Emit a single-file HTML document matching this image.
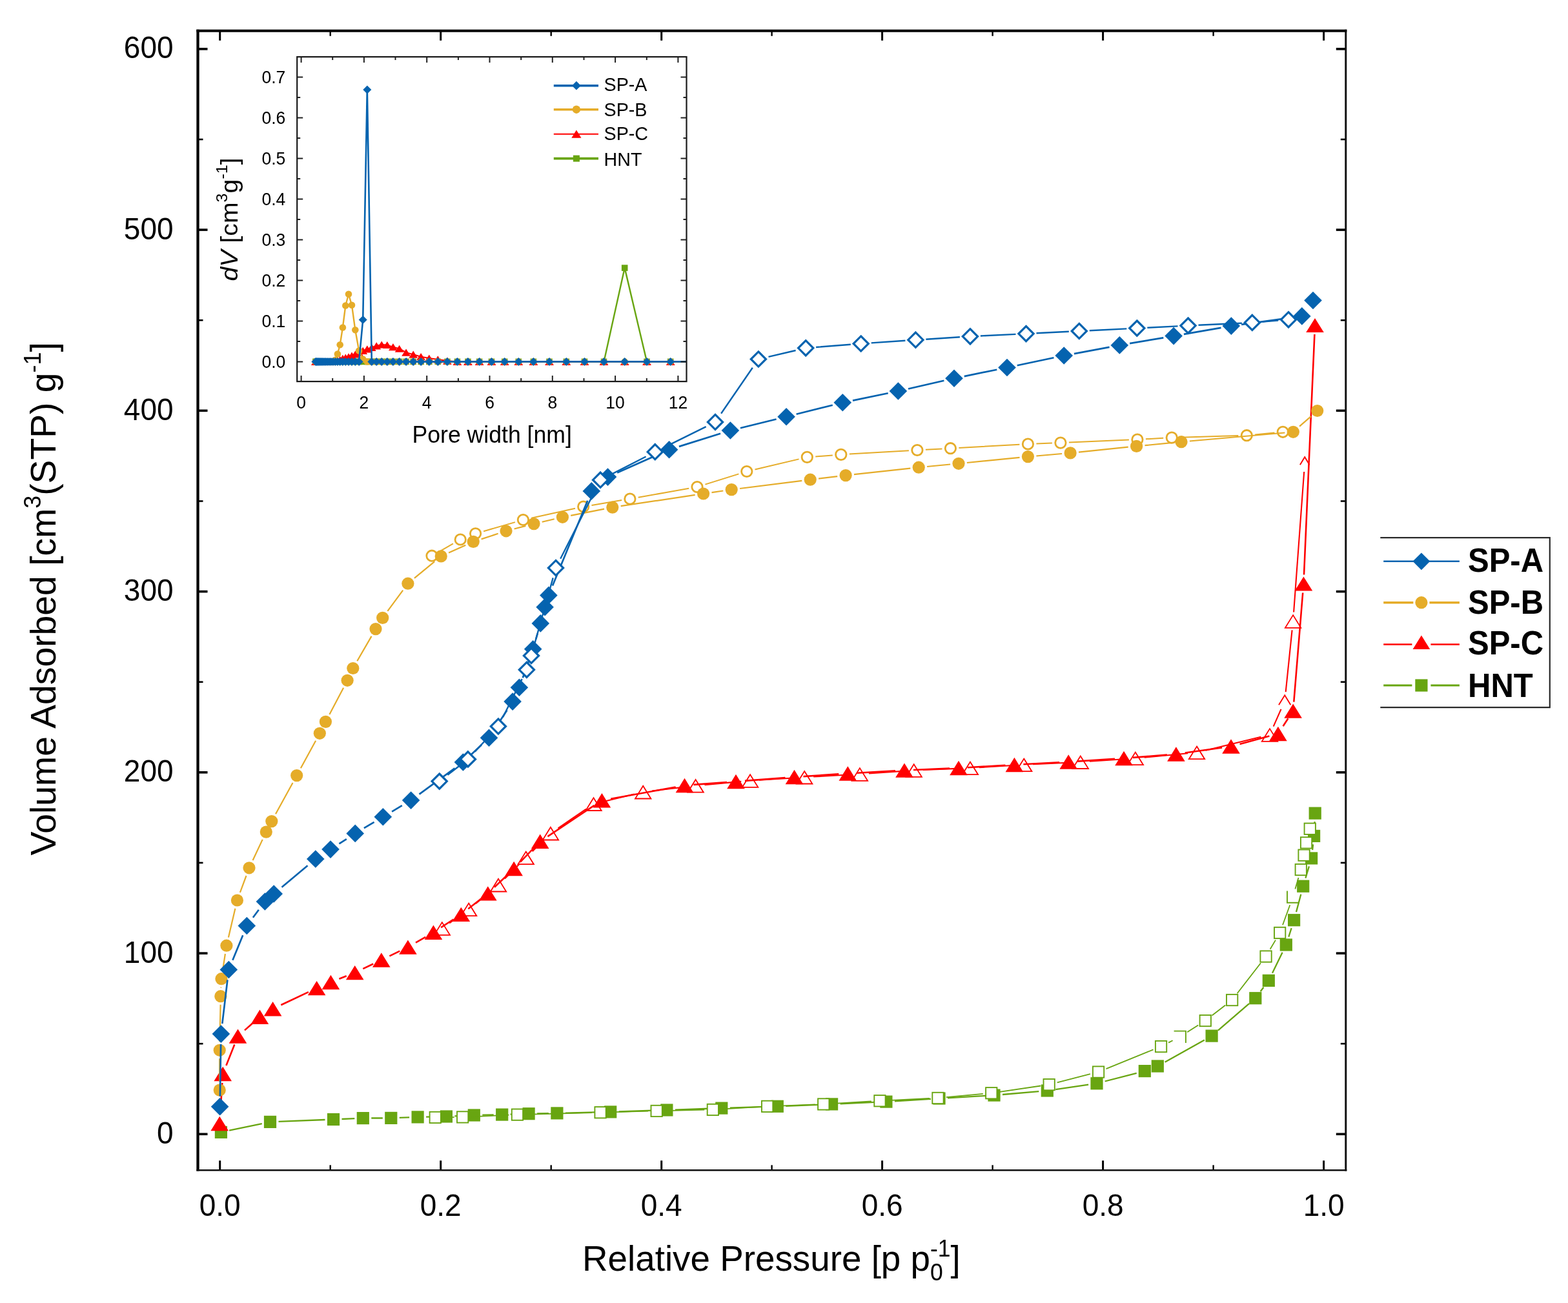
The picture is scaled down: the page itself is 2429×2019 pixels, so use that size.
<!DOCTYPE html><html><head><meta charset="utf-8"><style>html,body{margin:0;padding:0;background:#fff;overflow:hidden;}svg{display:block;}</style></head><body><svg width="2429" height="2019" viewBox="0 0 2429 2019">
<rect width="2429" height="2019" fill="#fff"/>
<g>
<path d="M355.1 1751.7L405.8 1741.1M431.5 1737.9L503.5 1735M529.5 1734L549.3 1733.1M575.3 1732.5L592.8 1732.5M618.8 1731.9L634.1 1731.4M660.1 1730.6L678.4 1730.3M704.4 1729.4L721.3 1728.6M747.3 1727.7L764.7 1727.4M790.7 1726.7L806.1 1726.1M832.1 1725.5L849.9 1725.1M875.9 1724.6L932.7 1723.2M958.7 1722.5L1019.9 1720.4M1045.9 1719.6L1104.8 1717.5M1130.8 1716.7L1191.3 1714.7M1217.3 1713.8L1275.6 1711.4M1301.6 1710.3L1359.9 1707.7M1385.9 1706.3L1442 1702.8M1468 1701.3L1527 1697.8M1553 1696L1609.3 1691.1M1635.2 1688.1L1686.1 1680.7M1711.6 1675.5L1760.7 1662.9M1804.6 1645.7L1865.8 1611.4M1886.9 1596.6L1935 1555.2M1952.6 1536.3L1957.5 1529.8M1971 1507.7L1986.6 1475.7M1996.3 1451.6L2000.6 1438.1M2008 1413.1L2015.3 1385.8M2022.4 1360.7L2027.9 1342.4M2033.1 1317L2034.1 1308.3M2036.2 1282.4L2036.6 1273.1" fill="none" stroke="#68A511" stroke-width="2.3" stroke-linecap="butt"/>
<rect x="332.8" y="1744.8" width="19.2" height="19.2" fill="#68A511"/><rect x="408.9" y="1728.8" width="19.2" height="19.2" fill="#68A511"/><rect x="506.9" y="1724.9" width="19.2" height="19.2" fill="#68A511"/><rect x="552.7" y="1723" width="19.2" height="19.2" fill="#68A511"/><rect x="596.2" y="1722.8" width="19.2" height="19.2" fill="#68A511"/><rect x="637.5" y="1721.3" width="19.2" height="19.2" fill="#68A511"/><rect x="681.8" y="1720.4" width="19.2" height="19.2" fill="#68A511"/><rect x="724.7" y="1718.4" width="19.2" height="19.2" fill="#68A511"/><rect x="768.1" y="1717.5" width="19.2" height="19.2" fill="#68A511"/><rect x="809.5" y="1716.1" width="19.2" height="19.2" fill="#68A511"/><rect x="853.3" y="1715.3" width="19.2" height="19.2" fill="#68A511"/><rect x="936.1" y="1713.3" width="19.2" height="19.2" fill="#68A511"/><rect x="1023.3" y="1710.4" width="19.2" height="19.2" fill="#68A511"/><rect x="1108.2" y="1707.5" width="19.2" height="19.2" fill="#68A511"/><rect x="1194.7" y="1704.7" width="19.2" height="19.2" fill="#68A511"/><rect x="1279" y="1701.3" width="19.2" height="19.2" fill="#68A511"/><rect x="1363.3" y="1697.5" width="19.2" height="19.2" fill="#68A511"/><rect x="1445.4" y="1692.4" width="19.2" height="19.2" fill="#68A511"/><rect x="1530.4" y="1687.5" width="19.2" height="19.2" fill="#68A511"/><rect x="1612.7" y="1680.4" width="19.2" height="19.2" fill="#68A511"/><rect x="1689.4" y="1669.2" width="19.2" height="19.2" fill="#68A511"/><rect x="1763.7" y="1650" width="19.2" height="19.2" fill="#68A511"/><rect x="1783.7" y="1642.4" width="19.2" height="19.2" fill="#68A511"/><rect x="1867.5" y="1595.5" width="19.2" height="19.2" fill="#68A511"/><rect x="1935.2" y="1537.1" width="19.2" height="19.2" fill="#68A511"/><rect x="1955.7" y="1509.8" width="19.2" height="19.2" fill="#68A511"/><rect x="1982.7" y="1454.4" width="19.2" height="19.2" fill="#68A511"/><rect x="1995" y="1416.1" width="19.2" height="19.2" fill="#68A511"/><rect x="2009.1" y="1363.6" width="19.2" height="19.2" fill="#68A511"/><rect x="2022" y="1320.3" width="19.2" height="19.2" fill="#68A511"/><rect x="2026" y="1285.8" width="19.2" height="19.2" fill="#68A511"/><rect x="2027.6" y="1250.5" width="19.2" height="19.2" fill="#68A511"/>
<path d="M687.3 1731.2L703.6 1731.1M729.6 1730.3L788.4 1727.7M814.4 1726.8L917 1724M943 1723.4L1004.1 1721.7M1030.1 1721.1L1091.3 1719.7M1117.3 1718.6L1175.6 1715.1M1201.6 1713.8L1262.7 1711.4M1288.7 1710.1L1349.9 1706.5M1375.9 1705.1L1439.9 1702M1465.8 1700.2L1522.8 1694.9M1548.6 1691.8L1612.2 1682.5M1637.7 1677.4L1688.9 1664.2M1713.5 1656.1L1786.5 1626.4M1810.1 1615.6L1816.6 1612.2M1839.2 1599.3L1856.2 1588.5M1877.5 1573.5L1898.3 1557.5M1916.6 1539.2L1953 1492.3M1967.6 1470.8L1976 1456.6M1987 1433.2L1998.3 1402.3M2006.4 1377.6L2011.5 1360" fill="none" stroke="#68A511" stroke-width="1.8" stroke-linecap="butt"/>
<rect x="665.6" y="1722.8" width="17.3" height="17.3" fill="#fff" stroke="#68A511" stroke-width="1.9"/><rect x="708" y="1722.3" width="17.3" height="17.3" fill="#fff" stroke="#68A511" stroke-width="1.9"/><rect x="792.8" y="1718.5" width="17.3" height="17.3" fill="#fff" stroke="#68A511" stroke-width="1.9"/><rect x="921.4" y="1715.1" width="17.3" height="17.3" fill="#fff" stroke="#68A511" stroke-width="1.9"/><rect x="1008.5" y="1712.8" width="17.3" height="17.3" fill="#fff" stroke="#68A511" stroke-width="1.9"/><rect x="1095.7" y="1710.8" width="17.3" height="17.3" fill="#fff" stroke="#68A511" stroke-width="1.9"/><rect x="1180" y="1705.7" width="17.3" height="17.3" fill="#fff" stroke="#68A511" stroke-width="1.9"/><rect x="1267.1" y="1702.3" width="17.3" height="17.3" fill="#fff" stroke="#68A511" stroke-width="1.9"/><rect x="1354.3" y="1697.1" width="17.3" height="17.3" fill="#fff" stroke="#68A511" stroke-width="1.9"/><rect x="1444.3" y="1692.8" width="17.3" height="17.3" fill="#fff" stroke="#68A511" stroke-width="1.9"/><rect x="1527.1" y="1685.1" width="17.3" height="17.3" fill="#fff" stroke="#68A511" stroke-width="1.9"/><rect x="1616.5" y="1672" width="17.3" height="17.3" fill="#fff" stroke="#68A511" stroke-width="1.9"/><rect x="1692.9" y="1652.4" width="17.3" height="17.3" fill="#fff" stroke="#68A511" stroke-width="1.9"/><rect x="1789.9" y="1612.9" width="17.3" height="17.3" fill="#fff" stroke="#68A511" stroke-width="1.9"/><path d="M1818.6 1597.6H1837.8M1836.9 1596.7V1615.9" fill="none" stroke="#68A511" stroke-width="1.9"/><rect x="1858.6" y="1572.9" width="17.3" height="17.3" fill="#fff" stroke="#68A511" stroke-width="1.9"/><rect x="1900" y="1540.9" width="17.3" height="17.3" fill="#fff" stroke="#68A511" stroke-width="1.9"/><rect x="1952.4" y="1473.4" width="17.3" height="17.3" fill="#fff" stroke="#68A511" stroke-width="1.9"/><rect x="1974" y="1436.8" width="17.3" height="17.3" fill="#fff" stroke="#68A511" stroke-width="1.9"/><path d="M1994 1380.5V1399.7M1993.1 1398.8H2012.3" fill="none" stroke="#68A511" stroke-width="1.9"/><rect x="2006.6" y="1338.9" width="17.3" height="17.3" fill="#fff" stroke="#68A511" stroke-width="1.9"/><rect x="2011.4" y="1316.5" width="17.3" height="17.3" fill="#fff" stroke="#68A511" stroke-width="1.9"/><rect x="2014.9" y="1297.2" width="17.3" height="17.3" fill="#fff" stroke="#68A511" stroke-width="1.9"/><rect x="2020.6" y="1275.6" width="17.3" height="17.3" fill="#fff" stroke="#68A511" stroke-width="1.9"/>
</g>
<g>
<path d="M696.2 1430.4L714.7 1417.1M736.9 1400.1L761.2 1380.1M782 1361.4L804.7 1338.8M824.7 1319.2L842.9 1301M864.5 1283.3L907.9 1253.6M933.1 1242.4L982.6 1230.5M1010.1 1225.5L1063.7 1219.1M1091.5 1216.1L1148.2 1210.9M1176.1 1208.7L1232.2 1205.2M1260.2 1203.5L1317.9 1200.3M1345.9 1198.5L1401.7 1194.6M1429.7 1193L1488.9 1190.6M1516.9 1189.2L1572.2 1185.8M1600.2 1184.3L1659.8 1181.5M1687.8 1179.8L1744.8 1176M1772.7 1173.7L1840.1 1167.3M1867.6 1162.7L1953.4 1141.8M1972.7 1125.7L1984.5 1098.8M1991.7 1072.1L2001.6 976.4M2004.1 948.5L2020.2 731" fill="none" stroke="#FF0000" stroke-width="2.1" stroke-linecap="butt"/>
<path d="M684.8 1429.1L697 1448.8L672.6 1448.8Z" fill="#fff" stroke="#FF0000" stroke-width="1.8"/><path d="M726.1 1399.6L738.3 1419.2L713.9 1419.2Z" fill="#fff" stroke="#FF0000" stroke-width="1.8"/><path d="M772 1361.8L784.2 1381.5L759.8 1381.5Z" fill="#fff" stroke="#FF0000" stroke-width="1.8"/><path d="M814.7 1319.6L826.9 1339.2L802.5 1339.2Z" fill="#fff" stroke="#FF0000" stroke-width="1.8"/><path d="M852.9 1281.8L865.1 1301.5L840.7 1301.5Z" fill="#fff" stroke="#FF0000" stroke-width="1.8"/><path d="M919.5 1236.3L931.7 1256L907.3 1256Z" fill="#fff" stroke="#FF0000" stroke-width="1.8"/><path d="M996.2 1217.8L1008.4 1237.5L984 1237.5Z" fill="#fff" stroke="#FF0000" stroke-width="1.8"/><path d="M1077.6 1208L1089.8 1227.7L1065.4 1227.7Z" fill="#fff" stroke="#FF0000" stroke-width="1.8"/><path d="M1162.1 1200.2L1174.3 1219.8L1149.9 1219.8Z" fill="#fff" stroke="#FF0000" stroke-width="1.8"/><path d="M1246.2 1194.9L1258.4 1214.5L1234 1214.5Z" fill="#fff" stroke="#FF0000" stroke-width="1.8"/><path d="M1331.9 1190.1L1344.1 1209.8L1319.7 1209.8Z" fill="#fff" stroke="#FF0000" stroke-width="1.8"/><path d="M1415.7 1184.2L1427.9 1203.8L1403.5 1203.8Z" fill="#fff" stroke="#FF0000" stroke-width="1.8"/><path d="M1502.9 1180.6L1515.1 1200.2L1490.7 1200.2Z" fill="#fff" stroke="#FF0000" stroke-width="1.8"/><path d="M1586.2 1175.6L1598.4 1195.2L1574 1195.2Z" fill="#fff" stroke="#FF0000" stroke-width="1.8"/><path d="M1673.8 1171.4L1686 1191L1661.6 1191Z" fill="#fff" stroke="#FF0000" stroke-width="1.8"/><path d="M1758.8 1165.6L1771 1185.2L1746.6 1185.2Z" fill="#fff" stroke="#FF0000" stroke-width="1.8"/><path d="M1854 1156.6L1866.2 1176.2L1841.8 1176.2Z" fill="#fff" stroke="#FF0000" stroke-width="1.8"/><path d="M1967 1129.1L1979.2 1148.8L1954.8 1148.8Z" fill="#fff" stroke="#FF0000" stroke-width="1.8"/><path d="M1981 1092.2L1990.2 1077.2L1999.4 1092.2" fill="none" stroke="#FF0000" stroke-width="1.9"/><path d="M2003.1 953.1L2015.3 972.8L1990.9 972.8Z" fill="#fff" stroke="#FF0000" stroke-width="1.8"/><path d="M2013.9 720.2L2021.2 708.2L2028.5 720.2" fill="none" stroke="#FF0000" stroke-width="1.9"/>
<path d="M341.1 1727L344.3 1678M350.4 1651L363.3 1618.6M379 1596.4L391.9 1585M435.3 1557.2L477.9 1537.1M525.4 1516.8L536.7 1512.3M562.3 1501.1L578.2 1493.5M603.4 1481.4L619.3 1473.7M644 1460.6L659.3 1451.8M683.1 1437.2L702.6 1424.5M725.3 1408.3L744.8 1393M765.9 1374.7L786 1355.7M805.8 1335.9L827 1313.9M848.4 1296.1L920.7 1247.9M946.2 1237.7L1046.7 1219.5M1074.5 1215.9L1126 1212.1M1154 1209.9L1216.5 1205.1M1244.5 1203.1L1299.3 1199.4M1327.3 1197.7L1387 1194.4M1415 1193L1471 1190.6M1499 1189.2L1557.4 1185.8M1585.4 1184.2L1641.2 1181.3M1669.2 1179.6L1727 1175.9M1755 1173.9L1807.9 1169.6M1835.8 1166.5L1893.1 1158.5M1920.5 1152.9L1966.4 1140.6M1987.6 1125.3L1995.4 1113.3M2004.3 1087.6L2018.2 918.5M2020 890.5L2036.4 518" fill="none" stroke="#FF0000" stroke-width="2.6" stroke-linecap="butt"/>
<path d="M340.2 1729.8L354 1752.2L326.4 1752.2Z" fill="#FF0000"/><path d="M345.2 1652.8L359 1675.2L331.4 1675.2Z" fill="#FF0000"/><path d="M368.5 1594.4L382.3 1616.8L354.7 1616.8Z" fill="#FF0000"/><path d="M402.4 1564.6L416.2 1587L388.6 1587Z" fill="#FF0000"/><path d="M422.6 1552L436.4 1574.4L408.8 1574.4Z" fill="#FF0000"/><path d="M490.6 1519.9L504.4 1542.2L476.8 1542.2Z" fill="#FF0000"/><path d="M512.4 1510.8L526.2 1533.2L498.6 1533.2Z" fill="#FF0000"/><path d="M549.7 1495.9L563.5 1518.2L535.9 1518.2Z" fill="#FF0000"/><path d="M590.8 1476.3L604.6 1498.7L577 1498.7Z" fill="#FF0000"/><path d="M631.9 1456.4L645.7 1478.8L618.1 1478.8Z" fill="#FF0000"/><path d="M671.4 1433.6L685.2 1456L657.6 1456Z" fill="#FF0000"/><path d="M714.3 1405.8L728.1 1428.1L700.5 1428.1Z" fill="#FF0000"/><path d="M755.8 1373.2L769.6 1395.6L742 1395.6Z" fill="#FF0000"/><path d="M796.1 1334.8L809.9 1357.2L782.3 1357.2Z" fill="#FF0000"/><path d="M836.7 1292.6L850.5 1315L822.9 1315Z" fill="#FF0000"/><path d="M932.4 1229L946.2 1251.4L918.6 1251.4Z" fill="#FF0000"/><path d="M1060.5 1205.8L1074.3 1228.2L1046.7 1228.2Z" fill="#FF0000"/><path d="M1140 1199.8L1153.8 1222.2L1126.2 1222.2Z" fill="#FF0000"/><path d="M1230.5 1192.8L1244.3 1215.2L1216.7 1215.2Z" fill="#FF0000"/><path d="M1313.3 1187.3L1327.1 1209.7L1299.5 1209.7Z" fill="#FF0000"/><path d="M1401 1182.4L1414.8 1204.8L1387.2 1204.8Z" fill="#FF0000"/><path d="M1485 1178.8L1498.8 1201.2L1471.2 1201.2Z" fill="#FF0000"/><path d="M1571.4 1173.8L1585.2 1196.2L1557.6 1196.2Z" fill="#FF0000"/><path d="M1655.2 1169.3L1669 1191.7L1641.4 1191.7Z" fill="#FF0000"/><path d="M1741 1163.8L1754.8 1186.2L1727.2 1186.2Z" fill="#FF0000"/><path d="M1821.9 1157.3L1835.7 1179.7L1808.1 1179.7Z" fill="#FF0000"/><path d="M1907 1145.3L1920.8 1167.7L1893.2 1167.7Z" fill="#FF0000"/><path d="M1979.9 1125.8L1993.7 1148.2L1966.1 1148.2Z" fill="#FF0000"/><path d="M2003.1 1090.4L2016.9 1112.8L1989.3 1112.8Z" fill="#FF0000"/><path d="M2019.4 893.4L2033.2 915.6L2005.6 915.6Z" fill="#FF0000"/><path d="M2037 492.9L2050.8 515.1L2023.2 515.1Z" fill="#FF0000"/>
</g>
<g>
<path d="M680.3 854.8L701.9 842.4M749.1 823.2L797.9 809.1M823.1 802.7L891 787.8M916.5 782.9L963.1 775.1M988.7 770.7L1067.2 756.8M1092.4 750.6L1144.4 734.4M1169.5 727.5L1237.6 711.4M1263.3 707.4L1289.8 705.4M1315.8 703.6L1407.9 698.3M1433.9 696.8L1459.4 695.4M1485.4 694L1579.4 688.7M1605.4 687.5L1629.9 686.6M1655.9 685.5L1748.9 681.6M1774.9 680.3L1802.2 678.8M1828.2 677.7L1918.3 675.1M1944.2 673.5L1974.4 670.5" fill="none" stroke="#E5AC29" stroke-width="2" stroke-linecap="butt"/>
<circle cx="669" cy="861.2" r="8.2" fill="#fff" stroke="#E5AC29" stroke-width="2.8"/><circle cx="713.2" cy="836" r="8.2" fill="#fff" stroke="#E5AC29" stroke-width="2.8"/><circle cx="736.6" cy="826.8" r="8.2" fill="#fff" stroke="#E5AC29" stroke-width="2.8"/><circle cx="810.4" cy="805.5" r="8.2" fill="#fff" stroke="#E5AC29" stroke-width="2.8"/><circle cx="903.7" cy="785" r="8.2" fill="#fff" stroke="#E5AC29" stroke-width="2.8"/><circle cx="975.9" cy="773" r="8.2" fill="#fff" stroke="#E5AC29" stroke-width="2.8"/><circle cx="1080" cy="754.5" r="8.2" fill="#fff" stroke="#E5AC29" stroke-width="2.8"/><circle cx="1156.8" cy="730.5" r="8.2" fill="#fff" stroke="#E5AC29" stroke-width="2.8"/><circle cx="1250.3" cy="708.4" r="8.2" fill="#fff" stroke="#E5AC29" stroke-width="2.8"/><circle cx="1302.8" cy="704.4" r="8.2" fill="#fff" stroke="#E5AC29" stroke-width="2.8"/><circle cx="1420.9" cy="697.5" r="8.2" fill="#fff" stroke="#E5AC29" stroke-width="2.8"/><circle cx="1472.4" cy="694.7" r="8.2" fill="#fff" stroke="#E5AC29" stroke-width="2.8"/><circle cx="1592.4" cy="688" r="8.2" fill="#fff" stroke="#E5AC29" stroke-width="2.8"/><circle cx="1642.9" cy="686.1" r="8.2" fill="#fff" stroke="#E5AC29" stroke-width="2.8"/><circle cx="1761.9" cy="681" r="8.2" fill="#fff" stroke="#E5AC29" stroke-width="2.8"/><circle cx="1815.2" cy="678.1" r="8.2" fill="#fff" stroke="#E5AC29" stroke-width="2.8"/><circle cx="1931.3" cy="674.7" r="8.2" fill="#fff" stroke="#E5AC29" stroke-width="2.8"/><circle cx="1987.3" cy="669.3" r="8.2" fill="#fff" stroke="#E5AC29" stroke-width="2.8"/>
<path d="M340.2 1676.1L340.2 1640.3M340.4 1614.3L341.6 1556.7M342.3 1530.7L342.4 1529.7M344.9 1503.9L348.9 1478M353.9 1452.5L364.4 1407.7M371.9 1382.8L381.5 1357M391.6 1333L406.7 1300.9M427 1261.2L453.5 1213M465.9 1190.2L489.1 1147.7M510.4 1106.9L532.1 1065.8M553.3 1024.2L575.5 985.9M600.4 946.9L624.2 914.7M641.9 895.9L673.2 870.2M695.1 856.6L721.3 844.7M745.6 835.4L771.6 826.8M796.6 819.5L814.4 814.9M839.7 808.7L858.7 804.2M884.2 798.8L936 788.6M961.7 784.2L1076.7 766.9M1102.5 763.1L1120.3 760.5M1146.1 757L1242.3 744.8M1268.1 741.6L1297.2 738.2M1323 735.2L1410.3 725.6M1436.1 723L1472.1 719.5M1497.9 717L1579.5 708.9M1605.4 706.5L1645.1 703M1671 700.6L1747.7 692.7M1773.5 690.2L1817.1 685.9M1842.9 683.5L1990.4 670.5M2013.1 660.7L2030.9 645.1" fill="none" stroke="#E5AC29" stroke-width="2.2" stroke-linecap="butt"/>
<circle cx="340.2" cy="1689.1" r="9.6" fill="#E5AC29"/><circle cx="340.2" cy="1627.3" r="9.6" fill="#E5AC29"/><circle cx="341.8" cy="1543.7" r="9.6" fill="#E5AC29"/><circle cx="342.9" cy="1516.7" r="9.6" fill="#E5AC29"/><circle cx="350.9" cy="1465.2" r="9.6" fill="#E5AC29"/><circle cx="367.4" cy="1395" r="9.6" fill="#E5AC29"/><circle cx="386" cy="1344.8" r="9.6" fill="#E5AC29"/><circle cx="412.3" cy="1289.1" r="9.6" fill="#E5AC29"/><circle cx="420.8" cy="1272.6" r="9.6" fill="#E5AC29"/><circle cx="459.7" cy="1201.6" r="9.6" fill="#E5AC29"/><circle cx="495.3" cy="1136.3" r="9.6" fill="#E5AC29"/><circle cx="504.4" cy="1118.4" r="9.6" fill="#E5AC29"/><circle cx="538.1" cy="1054.3" r="9.6" fill="#E5AC29"/><circle cx="546.8" cy="1035.5" r="9.6" fill="#E5AC29"/><circle cx="582" cy="974.6" r="9.6" fill="#E5AC29"/><circle cx="592.7" cy="957.4" r="9.6" fill="#E5AC29"/><circle cx="631.9" cy="904.2" r="9.6" fill="#E5AC29"/><circle cx="683.2" cy="861.9" r="9.6" fill="#E5AC29"/><circle cx="733.2" cy="839.4" r="9.6" fill="#E5AC29"/><circle cx="784" cy="822.8" r="9.6" fill="#E5AC29"/><circle cx="827" cy="811.6" r="9.6" fill="#E5AC29"/><circle cx="871.4" cy="801.3" r="9.6" fill="#E5AC29"/><circle cx="948.8" cy="786.1" r="9.6" fill="#E5AC29"/><circle cx="1089.6" cy="765" r="9.6" fill="#E5AC29"/><circle cx="1133.2" cy="758.6" r="9.6" fill="#E5AC29"/><circle cx="1255.2" cy="743.2" r="9.6" fill="#E5AC29"/><circle cx="1310.1" cy="736.6" r="9.6" fill="#E5AC29"/><circle cx="1423.2" cy="724.2" r="9.6" fill="#E5AC29"/><circle cx="1485" cy="718.3" r="9.6" fill="#E5AC29"/><circle cx="1592.4" cy="707.6" r="9.6" fill="#E5AC29"/><circle cx="1658.1" cy="701.9" r="9.6" fill="#E5AC29"/><circle cx="1760.6" cy="691.4" r="9.6" fill="#E5AC29"/><circle cx="1830" cy="684.7" r="9.6" fill="#E5AC29"/><circle cx="2003.3" cy="669.3" r="9.6" fill="#E5AC29"/><circle cx="2040.7" cy="636.5" r="9.6" fill="#E5AC29"/>
</g>
<g>
<path d="M340.9 1698.8L342.1 1618.1M344.3 1586.2L352.4 1518.4M360.4 1487.7L376.2 1449.3M391.9 1421.7L400.8 1409.8M436.5 1374.7L476.5 1341.3M525.4 1307.4L536.8 1300.1M563.9 1283.2L579.6 1273.9M607.1 1257.6L622.8 1248.2M649.5 1230.7L704.5 1190.4M729 1170L745.9 1154.2M766.2 1129.8L785.4 1100.5M809.8 1050.2L820.3 1020.8M830.2 990.3L832.8 981.3M856 907.6L910.2 775.7M928.4 750.4L929.4 749.6M956.1 732.6L1022 703.2M1051.9 691.9L1116.1 671.8M1146.9 663.2L1202.6 649.5M1233.6 641.8L1289.8 627.7M1321 620.6L1375.7 609.2M1407 602.5L1462.4 589.8M1493.7 583.1L1544.3 572.7M1575.7 566.2L1632.5 554.3M1663.9 548.1L1718.6 537.8M1750.1 532.2L1802.3 523.3M1833.9 517.9L1891.5 507.8M1923.1 502.9L2001 492.1" fill="none" stroke="#0563AF" stroke-width="2.7" stroke-linecap="butt"/>
<path d="M340.6 1701L354.4 1714.8L340.6 1728.6L326.8 1714.8Z" fill="#0563AF"/><path d="M342.4 1588.3L356.2 1602.1L342.4 1615.9L328.6 1602.1Z" fill="#0563AF"/><path d="M354.3 1488.7L368.1 1502.5L354.3 1516.3L340.5 1502.5Z" fill="#0563AF"/><path d="M382.3 1420.7L396.1 1434.5L382.3 1448.3L368.5 1434.5Z" fill="#0563AF"/><path d="M410.4 1383.2L424.2 1397L410.4 1410.8L396.6 1397Z" fill="#0563AF"/><path d="M424.2 1371.2L438 1385L424.2 1398.8L410.4 1385Z" fill="#0563AF"/><path d="M488.8 1317.2L502.6 1331L488.8 1344.8L475 1331Z" fill="#0563AF"/><path d="M512 1302.3L525.8 1316.1L512 1329.9L498.2 1316.1Z" fill="#0563AF"/><path d="M550.2 1277.6L564 1291.4L550.2 1305.2L536.4 1291.4Z" fill="#0563AF"/><path d="M593.3 1251.9L607.1 1265.7L593.3 1279.5L579.5 1265.7Z" fill="#0563AF"/><path d="M636.6 1226.3L650.4 1240.1L636.6 1253.9L622.8 1240.1Z" fill="#0563AF"/><path d="M717.4 1167.2L731.2 1181L717.4 1194.8L703.6 1181Z" fill="#0563AF"/><path d="M757.5 1129.4L771.3 1143.2L757.5 1157L743.7 1143.2Z" fill="#0563AF"/><path d="M794.1 1073.3L807.9 1087.1L794.1 1100.9L780.3 1087.1Z" fill="#0563AF"/><path d="M804.4 1051.5L818.2 1065.3L804.4 1079.1L790.6 1065.3Z" fill="#0563AF"/><path d="M825.7 991.9L839.5 1005.7L825.7 1019.5L811.9 1005.7Z" fill="#0563AF"/><path d="M837.3 952.1L851.1 965.9L837.3 979.7L823.5 965.9Z" fill="#0563AF"/><path d="M844.1 926.9L857.9 940.7L844.1 954.5L830.3 940.7Z" fill="#0563AF"/><path d="M849.9 908.6L863.7 922.4L849.9 936.2L836.1 922.4Z" fill="#0563AF"/><path d="M916.3 747.1L930.1 760.9L916.3 774.7L902.5 760.9Z" fill="#0563AF"/><path d="M941.5 725.3L955.3 739.1L941.5 752.9L927.7 739.1Z" fill="#0563AF"/><path d="M1036.6 682.9L1050.4 696.7L1036.6 710.5L1022.8 696.7Z" fill="#0563AF"/><path d="M1131.4 653.2L1145.2 667L1131.4 680.8L1117.6 667Z" fill="#0563AF"/><path d="M1218.1 631.9L1231.9 645.7L1218.1 659.5L1204.3 645.7Z" fill="#0563AF"/><path d="M1305.3 610L1319.1 623.8L1305.3 637.6L1291.5 623.8Z" fill="#0563AF"/><path d="M1391.4 592.2L1405.2 606L1391.4 619.8L1377.6 606Z" fill="#0563AF"/><path d="M1478 572.5L1491.8 586.3L1478 600.1L1464.2 586.3Z" fill="#0563AF"/><path d="M1560 555.7L1573.8 569.5L1560 583.3L1546.2 569.5Z" fill="#0563AF"/><path d="M1648.2 537.2L1662 551L1648.2 564.8L1634.4 551Z" fill="#0563AF"/><path d="M1734.3 521.1L1748.1 534.9L1734.3 548.7L1720.5 534.9Z" fill="#0563AF"/><path d="M1818.1 506.8L1831.9 520.6L1818.1 534.4L1804.3 520.6Z" fill="#0563AF"/><path d="M1907.3 491.3L1921.1 505.1L1907.3 518.9L1893.5 505.1Z" fill="#0563AF"/><path d="M2016.8 476.1L2030.6 489.9L2016.8 503.7L2003 489.9Z" fill="#0563AF"/><path d="M2034 451.7L2047.8 465.5L2034 479.3L2020.2 465.5Z" fill="#0563AF"/>
<path d="M693.4 1200.8L712.2 1186.2M735.8 1164.6L761 1137.3M779.1 1111.2L808.7 1052.1M827.3 1000.6L856.7 895.4M868.2 865.7L922.9 758M944.3 736.4L1000.6 707.5M1029.1 693.1L1093.7 661.1M1117.1 640.8L1165.8 569.7M1190.5 552.8L1232.6 543M1264.1 538L1317.8 533.8M1349.7 531.4L1402.4 527.8M1434.4 525.7L1486.9 522.3M1518.9 520.5L1573.5 517.9M1605.5 516.3L1655.8 513.8M1687.8 512.2L1745.3 509.4M1777.3 507.8L1824.5 505.4M1856.5 503.8L1923.8 500.7M1955.7 498.6L1980.1 496.6" fill="none" stroke="#0563AF" stroke-width="2.4" stroke-linecap="butt"/>
<path d="M680.7 1199L692.3 1210.6L680.7 1222.2L669.1 1210.6Z" fill="#fff" stroke="#0563AF" stroke-width="3.2"/><path d="M724.9 1164.8L736.5 1176.4L724.9 1188L713.3 1176.4Z" fill="#fff" stroke="#0563AF" stroke-width="3.2"/><path d="M771.9 1113.9L783.5 1125.5L771.9 1137.1L760.3 1125.5Z" fill="#fff" stroke="#0563AF" stroke-width="3.2"/><path d="M815.9 1026.2L827.5 1037.8L815.9 1049.4L804.3 1037.8Z" fill="#fff" stroke="#0563AF" stroke-width="3.2"/><path d="M823 1004.4L834.6 1016L823 1027.6L811.4 1016Z" fill="#fff" stroke="#0563AF" stroke-width="3.2"/><path d="M861 868.4L872.6 880L861 891.6L849.4 880Z" fill="#fff" stroke="#0563AF" stroke-width="3.2"/><path d="M930.1 732.1L941.7 743.7L930.1 755.3L918.5 743.7Z" fill="#fff" stroke="#0563AF" stroke-width="3.2"/><path d="M1014.8 688.6L1026.4 700.2L1014.8 711.8L1003.2 700.2Z" fill="#fff" stroke="#0563AF" stroke-width="3.2"/><path d="M1108 642.4L1119.6 654L1108 665.6L1096.4 654Z" fill="#fff" stroke="#0563AF" stroke-width="3.2"/><path d="M1174.9 544.9L1186.5 556.5L1174.9 568.1L1163.3 556.5Z" fill="#fff" stroke="#0563AF" stroke-width="3.2"/><path d="M1248.2 527.7L1259.8 539.3L1248.2 550.9L1236.6 539.3Z" fill="#fff" stroke="#0563AF" stroke-width="3.2"/><path d="M1333.7 520.9L1345.3 532.5L1333.7 544.1L1322.1 532.5Z" fill="#fff" stroke="#0563AF" stroke-width="3.2"/><path d="M1418.4 515.1L1430 526.7L1418.4 538.3L1406.8 526.7Z" fill="#fff" stroke="#0563AF" stroke-width="3.2"/><path d="M1502.9 509.7L1514.5 521.3L1502.9 532.9L1491.3 521.3Z" fill="#fff" stroke="#0563AF" stroke-width="3.2"/><path d="M1589.5 505.5L1601.1 517.1L1589.5 528.7L1577.9 517.1Z" fill="#fff" stroke="#0563AF" stroke-width="3.2"/><path d="M1671.8 501.4L1683.4 513L1671.8 524.6L1660.2 513Z" fill="#fff" stroke="#0563AF" stroke-width="3.2"/><path d="M1761.3 497L1772.9 508.6L1761.3 520.2L1749.7 508.6Z" fill="#fff" stroke="#0563AF" stroke-width="3.2"/><path d="M1840.5 493L1852.1 504.6L1840.5 516.2L1828.9 504.6Z" fill="#fff" stroke="#0563AF" stroke-width="3.2"/><path d="M1939.8 488.3L1951.4 499.9L1939.8 511.5L1928.2 499.9Z" fill="#fff" stroke="#0563AF" stroke-width="3.2"/><path d="M1996 483.7L2007.6 495.3L1996 506.9L1984.4 495.3Z" fill="#fff" stroke="#0563AF" stroke-width="3.2"/>
</g>
<path d="M306.5 1757.3H321.5" stroke="#000" stroke-width="3.6"/><path d="M2084.8 1757.3H2069.8" stroke="#000" stroke-width="3.6"/><path d="M306.5 1617.2H314.5" stroke="#000" stroke-width="2.6"/><path d="M2084.8 1617.2H2076.8" stroke="#000" stroke-width="2.6"/><path d="M306.5 1477.1H321.5" stroke="#000" stroke-width="3.6"/><path d="M2084.8 1477.1H2069.8" stroke="#000" stroke-width="3.6"/><path d="M306.5 1336.9H314.5" stroke="#000" stroke-width="2.6"/><path d="M2084.8 1336.9H2076.8" stroke="#000" stroke-width="2.6"/><path d="M306.5 1196.8H321.5" stroke="#000" stroke-width="3.6"/><path d="M2084.8 1196.8H2069.8" stroke="#000" stroke-width="3.6"/><path d="M306.5 1056.7H314.5" stroke="#000" stroke-width="2.6"/><path d="M2084.8 1056.7H2076.8" stroke="#000" stroke-width="2.6"/><path d="M306.5 916.6H321.5" stroke="#000" stroke-width="3.6"/><path d="M2084.8 916.6H2069.8" stroke="#000" stroke-width="3.6"/><path d="M306.5 776.5H314.5" stroke="#000" stroke-width="2.6"/><path d="M2084.8 776.5H2076.8" stroke="#000" stroke-width="2.6"/><path d="M306.5 636.3H321.5" stroke="#000" stroke-width="3.6"/><path d="M2084.8 636.3H2069.8" stroke="#000" stroke-width="3.6"/><path d="M306.5 496.2H314.5" stroke="#000" stroke-width="2.6"/><path d="M2084.8 496.2H2076.8" stroke="#000" stroke-width="2.6"/><path d="M306.5 356.1H321.5" stroke="#000" stroke-width="3.6"/><path d="M2084.8 356.1H2069.8" stroke="#000" stroke-width="3.6"/><path d="M306.5 216H314.5" stroke="#000" stroke-width="2.6"/><path d="M2084.8 216H2076.8" stroke="#000" stroke-width="2.6"/><path d="M306.5 75.9H321.5" stroke="#000" stroke-width="3.6"/><path d="M2084.8 75.9H2069.8" stroke="#000" stroke-width="3.6"/><path d="M340.7 1813.3V1798.3" stroke="#000" stroke-width="3"/><path d="M340.7 47.8V62.8" stroke="#000" stroke-width="3"/><path d="M511.7 1813.3V1805.3" stroke="#000" stroke-width="2.4"/><path d="M511.7 47.8V55.8" stroke="#000" stroke-width="2.4"/><path d="M682.7 1813.3V1798.3" stroke="#000" stroke-width="3"/><path d="M682.7 47.8V62.8" stroke="#000" stroke-width="3"/><path d="M853.7 1813.3V1805.3" stroke="#000" stroke-width="2.4"/><path d="M853.7 47.8V55.8" stroke="#000" stroke-width="2.4"/><path d="M1024.7 1813.3V1798.3" stroke="#000" stroke-width="3"/><path d="M1024.7 47.8V62.8" stroke="#000" stroke-width="3"/><path d="M1195.6 1813.3V1805.3" stroke="#000" stroke-width="2.4"/><path d="M1195.6 47.8V55.8" stroke="#000" stroke-width="2.4"/><path d="M1366.6 1813.3V1798.3" stroke="#000" stroke-width="3"/><path d="M1366.6 47.8V62.8" stroke="#000" stroke-width="3"/><path d="M1537.6 1813.3V1805.3" stroke="#000" stroke-width="2.4"/><path d="M1537.6 47.8V55.8" stroke="#000" stroke-width="2.4"/><path d="M1708.6 1813.3V1798.3" stroke="#000" stroke-width="3"/><path d="M1708.6 47.8V62.8" stroke="#000" stroke-width="3"/><path d="M1879.6 1813.3V1805.3" stroke="#000" stroke-width="2.4"/><path d="M1879.6 47.8V55.8" stroke="#000" stroke-width="2.4"/><path d="M2050.6 1813.3V1798.3" stroke="#000" stroke-width="3"/><path d="M2050.6 47.8V62.8" stroke="#000" stroke-width="3"/>
<path d="M306.5 45.8V1814.4" stroke="#000" stroke-width="4.3"/>
<path d="M2084.8 45.8V1814.4" stroke="#111" stroke-width="3"/>
<path d="M304.4 47.8H2086.3" stroke="#000" stroke-width="4"/>
<path d="M304.4 1813.3H2086.3" stroke="#111" stroke-width="2.4"/>
<g font-family="'Liberation Sans', Arial, sans-serif" fill="#000"><text transform="translate(268.6 1771.8) scale(1.0 1.06)" font-size="46" text-anchor="end">0</text><text transform="translate(268.6 1491.6) scale(1.0 1.06)" font-size="46" text-anchor="end">100</text><text transform="translate(268.6 1211.3) scale(1.0 1.06)" font-size="46" text-anchor="end">200</text><text transform="translate(268.6 931.1) scale(1.0 1.06)" font-size="46" text-anchor="end">300</text><text transform="translate(268.6 650.8) scale(1.0 1.06)" font-size="46" text-anchor="end">400</text><text transform="translate(268.6 370.6) scale(1.0 1.06)" font-size="46" text-anchor="end">500</text><text transform="translate(268.6 90.4) scale(1.0 1.06)" font-size="46" text-anchor="end">600</text><text transform="translate(340.7 1883.8) scale(1.0 1.06)" font-size="46" text-anchor="middle">0.0</text><text transform="translate(682.7 1883.8) scale(1.0 1.06)" font-size="46" text-anchor="middle">0.2</text><text transform="translate(1024.7 1883.8) scale(1.0 1.06)" font-size="46" text-anchor="middle">0.4</text><text transform="translate(1366.6 1883.8) scale(1.0 1.06)" font-size="46" text-anchor="middle">0.6</text><text transform="translate(1708.6 1883.8) scale(1.0 1.06)" font-size="46" text-anchor="middle">0.8</text><text transform="translate(2050.6 1883.8) scale(1.0 1.06)" font-size="46" text-anchor="middle">1.0</text></g>
<text transform="translate(902 1968.6) scale(1.015 1.04)" font-family="'Liberation Sans', Arial, sans-serif" font-size="54" fill="#000">Relative Pressure [p p<tspan font-size="35" dy="15">0</tspan><tspan font-size="35" dx="-19.5" dy="-36">-1</tspan><tspan dy="21">]</tspan></text>
<text transform="translate(85.6 1325.5) rotate(-90) scale(1.024 1.03)" font-family="'Liberation Sans', Arial, sans-serif" font-size="54" fill="#000">Volume Adsorbed [cm<tspan font-size="35" dy="-22">3</tspan><tspan dy="22">(STP) g</tspan><tspan font-size="35" dy="-22">-1</tspan><tspan dy="22">]</tspan></text>
<rect x="460.2" y="88.1" width="603.3" height="503" fill="#fff"/>
<defs><clipPath id="ic"><rect x="460.2" y="88.1" width="603.3" height="503"/></clipPath></defs>
<g clip-path="url(#ic)">
<path d="M488.9 560.4L490.4 560.4L492 560.4L493.8 560.4L495.6 560.4L497.6 560.4L499.7 560.4L502 560.4L504.4 560.4L507 560.4L509.8 560.4L512.7 560.4L515.9 560.4L519.3 560.4L522.9 560.4L526.7 560.4L530.9 560.4L535.3 560.4L540 560.4L545 560.4L550.3 560.4L556.1 560.4L562.2 560.4L568.8 560.4L575.8 560.4L583.2 560.4L591.2 560.4L599.8 560.4L608.9 560.4L618.6 560.4L629.1 560.4L640.2 560.4L652.1 560.4L664.8 560.4L678.3 560.4L692.9 560.4L708.4 560.4L724.9 560.4L742.6 560.4L761.5 560.4L781.7 560.4L803.3 560.4L826.4 560.4L851 560.4L877.3 560.4L905.5 560.4L935.5 560.4L967.7 415.1L1002 560.4L1038.7 560.4L1077.8 560.4" fill="none" stroke="#68A511" stroke-width="2.4" stroke-linejoin="round"/>
<rect x="484.1" y="555.6" width="9.6" height="9.6" fill="#68A511"/><rect x="485.6" y="555.6" width="9.6" height="9.6" fill="#68A511"/><rect x="487.2" y="555.6" width="9.6" height="9.6" fill="#68A511"/><rect x="489" y="555.6" width="9.6" height="9.6" fill="#68A511"/><rect x="490.8" y="555.6" width="9.6" height="9.6" fill="#68A511"/><rect x="492.8" y="555.6" width="9.6" height="9.6" fill="#68A511"/><rect x="494.9" y="555.6" width="9.6" height="9.6" fill="#68A511"/><rect x="497.2" y="555.6" width="9.6" height="9.6" fill="#68A511"/><rect x="499.6" y="555.6" width="9.6" height="9.6" fill="#68A511"/><rect x="502.2" y="555.6" width="9.6" height="9.6" fill="#68A511"/><rect x="505" y="555.6" width="9.6" height="9.6" fill="#68A511"/><rect x="507.9" y="555.6" width="9.6" height="9.6" fill="#68A511"/><rect x="511.1" y="555.6" width="9.6" height="9.6" fill="#68A511"/><rect x="514.5" y="555.6" width="9.6" height="9.6" fill="#68A511"/><rect x="518.1" y="555.6" width="9.6" height="9.6" fill="#68A511"/><rect x="521.9" y="555.6" width="9.6" height="9.6" fill="#68A511"/><rect x="526.1" y="555.6" width="9.6" height="9.6" fill="#68A511"/><rect x="530.5" y="555.6" width="9.6" height="9.6" fill="#68A511"/><rect x="535.2" y="555.6" width="9.6" height="9.6" fill="#68A511"/><rect x="540.2" y="555.6" width="9.6" height="9.6" fill="#68A511"/><rect x="545.5" y="555.6" width="9.6" height="9.6" fill="#68A511"/><rect x="551.3" y="555.6" width="9.6" height="9.6" fill="#68A511"/><rect x="557.4" y="555.6" width="9.6" height="9.6" fill="#68A511"/><rect x="564" y="555.6" width="9.6" height="9.6" fill="#68A511"/><rect x="571" y="555.6" width="9.6" height="9.6" fill="#68A511"/><rect x="578.4" y="555.6" width="9.6" height="9.6" fill="#68A511"/><rect x="586.4" y="555.6" width="9.6" height="9.6" fill="#68A511"/><rect x="595" y="555.6" width="9.6" height="9.6" fill="#68A511"/><rect x="604.1" y="555.6" width="9.6" height="9.6" fill="#68A511"/><rect x="613.8" y="555.6" width="9.6" height="9.6" fill="#68A511"/><rect x="624.3" y="555.6" width="9.6" height="9.6" fill="#68A511"/><rect x="635.4" y="555.6" width="9.6" height="9.6" fill="#68A511"/><rect x="647.3" y="555.6" width="9.6" height="9.6" fill="#68A511"/><rect x="660" y="555.6" width="9.6" height="9.6" fill="#68A511"/><rect x="673.5" y="555.6" width="9.6" height="9.6" fill="#68A511"/><rect x="688.1" y="555.6" width="9.6" height="9.6" fill="#68A511"/><rect x="703.6" y="555.6" width="9.6" height="9.6" fill="#68A511"/><rect x="720.1" y="555.6" width="9.6" height="9.6" fill="#68A511"/><rect x="737.8" y="555.6" width="9.6" height="9.6" fill="#68A511"/><rect x="756.7" y="555.6" width="9.6" height="9.6" fill="#68A511"/><rect x="776.9" y="555.6" width="9.6" height="9.6" fill="#68A511"/><rect x="798.5" y="555.6" width="9.6" height="9.6" fill="#68A511"/><rect x="821.6" y="555.6" width="9.6" height="9.6" fill="#68A511"/><rect x="846.2" y="555.6" width="9.6" height="9.6" fill="#68A511"/><rect x="872.5" y="555.6" width="9.6" height="9.6" fill="#68A511"/><rect x="900.7" y="555.6" width="9.6" height="9.6" fill="#68A511"/><rect x="930.7" y="555.6" width="9.6" height="9.6" fill="#68A511"/><rect x="962.9" y="410.3" width="9.6" height="9.6" fill="#68A511"/><rect x="997.2" y="555.6" width="9.6" height="9.6" fill="#68A511"/><rect x="1033.9" y="555.6" width="9.6" height="9.6" fill="#68A511"/><rect x="1073" y="555.6" width="9.6" height="9.6" fill="#68A511"/>
<path d="M488.9 560.4L490.4 560.4L492 560.4L493.8 560.4L495.6 560.4L497.6 560.4L499.7 560.4L502 560.4L504.4 560.4L507 560.4L509.8 560.1L512.7 559.8L515.9 559.5L519.3 559.1L522.9 558.5L526.7 557.2L530.9 555.4L535.3 554.1L540 552.8L545 550.9L550.3 549.1L556.1 546.5L562.2 543.4L568.8 540.9L575.8 538.4L583.2 535.8L591.2 533.9L599.8 534.6L608.9 537.7L618.6 540.2L629.1 546.2L640.2 549.2L652.1 552.7L664.8 555.1L678.3 556.9L692.9 559.1L708.4 560.4L724.9 560.4L742.6 560.4L761.5 560.4L781.7 560.4L803.3 560.4L826.4 560.4L851 560.4L877.3 560.4L905.5 560.4L935.5 560.4L967.7 560.4L1002 560.4L1038.7 560.4L1077.8 560.4" fill="none" stroke="#FF0000" stroke-width="2" stroke-linejoin="round"/>
<path d="M488.9 554.8L495.8 566L482 566Z" fill="#FF0000"/><path d="M490.4 554.8L497.3 566L483.5 566Z" fill="#FF0000"/><path d="M492 554.8L498.9 566L485.1 566Z" fill="#FF0000"/><path d="M493.8 554.8L500.7 566L486.9 566Z" fill="#FF0000"/><path d="M495.6 554.8L502.5 566L488.7 566Z" fill="#FF0000"/><path d="M497.6 554.8L504.5 566L490.7 566Z" fill="#FF0000"/><path d="M499.7 554.8L506.6 566L492.8 566Z" fill="#FF0000"/><path d="M502 554.8L508.9 566L495.1 566Z" fill="#FF0000"/><path d="M504.4 554.8L511.3 566L497.5 566Z" fill="#FF0000"/><path d="M507 554.8L513.9 566L500.1 566Z" fill="#FF0000"/><path d="M509.8 554.5L516.7 565.7L502.9 565.7Z" fill="#FF0000"/><path d="M512.7 554.2L519.6 565.3L505.8 565.3Z" fill="#FF0000"/><path d="M515.9 553.9L522.8 565L509 565Z" fill="#FF0000"/><path d="M519.3 553.6L526.2 564.7L512.4 564.7Z" fill="#FF0000"/><path d="M522.9 552.9L529.8 564.1L516 564.1Z" fill="#FF0000"/><path d="M526.7 551.7L533.6 562.8L519.8 562.8Z" fill="#FF0000"/><path d="M530.9 549.8L537.8 560.9L524 560.9Z" fill="#FF0000"/><path d="M535.3 548.5L542.2 559.7L528.4 559.7Z" fill="#FF0000"/><path d="M540 547.3L546.9 558.4L533.1 558.4Z" fill="#FF0000"/><path d="M545 545.4L551.9 556.5L538.1 556.5Z" fill="#FF0000"/><path d="M550.3 543.5L557.2 554.6L543.4 554.6Z" fill="#FF0000"/><path d="M556.1 541L563 552.1L549.2 552.1Z" fill="#FF0000"/><path d="M562.2 537.8L569.1 549L555.3 549Z" fill="#FF0000"/><path d="M568.8 535.3L575.7 546.4L561.9 546.4Z" fill="#FF0000"/><path d="M575.8 532.8L582.7 543.9L568.9 543.9Z" fill="#FF0000"/><path d="M583.2 530.3L590.1 541.4L576.3 541.4Z" fill="#FF0000"/><path d="M591.2 528.4L598.1 539.5L584.3 539.5Z" fill="#FF0000"/><path d="M599.8 529L606.7 540.1L592.9 540.1Z" fill="#FF0000"/><path d="M608.9 532.1L615.8 543.3L602 543.3Z" fill="#FF0000"/><path d="M618.6 534.7L625.5 545.8L611.7 545.8Z" fill="#FF0000"/><path d="M629.1 540.6L636 551.8L622.2 551.8Z" fill="#FF0000"/><path d="M640.2 543.6L647.1 554.8L633.3 554.8Z" fill="#FF0000"/><path d="M652.1 547.1L659 558.3L645.2 558.3Z" fill="#FF0000"/><path d="M664.8 549.5L671.7 560.7L657.9 560.7Z" fill="#FF0000"/><path d="M678.3 551.3L685.2 562.4L671.4 562.4Z" fill="#FF0000"/><path d="M692.9 553.6L699.8 564.7L686 564.7Z" fill="#FF0000"/><path d="M708.4 554.8L715.3 566L701.5 566Z" fill="#FF0000"/><path d="M724.9 554.8L731.8 566L718 566Z" fill="#FF0000"/><path d="M742.6 554.8L749.5 566L735.7 566Z" fill="#FF0000"/><path d="M761.5 554.8L768.4 566L754.6 566Z" fill="#FF0000"/><path d="M781.7 554.8L788.6 566L774.8 566Z" fill="#FF0000"/><path d="M803.3 554.8L810.2 566L796.4 566Z" fill="#FF0000"/><path d="M826.4 554.8L833.3 566L819.5 566Z" fill="#FF0000"/><path d="M851 554.8L857.9 566L844.1 566Z" fill="#FF0000"/><path d="M877.3 554.8L884.2 566L870.4 566Z" fill="#FF0000"/><path d="M905.5 554.8L912.4 566L898.6 566Z" fill="#FF0000"/><path d="M935.5 554.8L942.4 566L928.6 566Z" fill="#FF0000"/><path d="M967.7 554.8L974.6 566L960.8 566Z" fill="#FF0000"/><path d="M1002 554.8L1008.9 566L995.1 566Z" fill="#FF0000"/><path d="M1038.7 554.8L1045.6 566L1031.8 566Z" fill="#FF0000"/><path d="M1077.8 554.8L1084.7 566L1070.9 566Z" fill="#FF0000"/>
<path d="M488.9 560.4L490.4 560.4L492 560.4L493.8 560.4L495.6 560.4L497.6 560.4L499.7 560.4L502 560.4L504.4 560.4L507 560.4L509.8 560.4L512.7 560.4L515.9 560.4L519.3 557.9L522.9 548.6L526.7 534.3L530.9 507.5L535.3 473.5L540 455.8L545 472.8L550.3 511.3L556.1 543.4L562.2 556.6L568.8 560.4L575.8 560.4L583.2 560.4L591.2 560.4L599.8 560.4L608.9 560.4L618.6 560.4L629.1 560.4L640.2 560.4L652.1 560.4L664.8 560.4L678.3 560.4L692.9 560.4L708.4 560.4L724.9 560.4L742.6 560.4L761.5 560.4L781.7 560.4L803.3 560.4L826.4 560.4L851 560.4L877.3 560.4L905.5 560.4L935.5 560.4L967.7 560.4L1002 560.4L1038.7 560.4L1077.8 560.4" fill="none" stroke="#E5AC29" stroke-width="2.4" stroke-linejoin="round"/>
<circle cx="488.9" cy="560.4" r="5.3" fill="#E5AC29"/><circle cx="490.4" cy="560.4" r="5.3" fill="#E5AC29"/><circle cx="492" cy="560.4" r="5.3" fill="#E5AC29"/><circle cx="493.8" cy="560.4" r="5.3" fill="#E5AC29"/><circle cx="495.6" cy="560.4" r="5.3" fill="#E5AC29"/><circle cx="497.6" cy="560.4" r="5.3" fill="#E5AC29"/><circle cx="499.7" cy="560.4" r="5.3" fill="#E5AC29"/><circle cx="502" cy="560.4" r="5.3" fill="#E5AC29"/><circle cx="504.4" cy="560.4" r="5.3" fill="#E5AC29"/><circle cx="507" cy="560.4" r="5.3" fill="#E5AC29"/><circle cx="509.8" cy="560.4" r="5.3" fill="#E5AC29"/><circle cx="512.7" cy="560.4" r="5.3" fill="#E5AC29"/><circle cx="515.9" cy="560.4" r="5.3" fill="#E5AC29"/><circle cx="519.3" cy="557.9" r="5.3" fill="#E5AC29"/><circle cx="522.9" cy="548.6" r="5.3" fill="#E5AC29"/><circle cx="526.7" cy="534.3" r="5.3" fill="#E5AC29"/><circle cx="530.9" cy="507.5" r="5.3" fill="#E5AC29"/><circle cx="535.3" cy="473.5" r="5.3" fill="#E5AC29"/><circle cx="540" cy="455.8" r="5.3" fill="#E5AC29"/><circle cx="545" cy="472.8" r="5.3" fill="#E5AC29"/><circle cx="550.3" cy="511.3" r="5.3" fill="#E5AC29"/><circle cx="556.1" cy="543.4" r="5.3" fill="#E5AC29"/><circle cx="562.2" cy="556.6" r="5.3" fill="#E5AC29"/><circle cx="568.8" cy="560.4" r="5.3" fill="#E5AC29"/><circle cx="575.8" cy="560.4" r="5.3" fill="#E5AC29"/><circle cx="583.2" cy="560.4" r="5.3" fill="#E5AC29"/><circle cx="591.2" cy="560.4" r="5.3" fill="#E5AC29"/><circle cx="599.8" cy="560.4" r="5.3" fill="#E5AC29"/><circle cx="608.9" cy="560.4" r="5.3" fill="#E5AC29"/><circle cx="618.6" cy="560.4" r="5.3" fill="#E5AC29"/><circle cx="629.1" cy="560.4" r="5.3" fill="#E5AC29"/><circle cx="640.2" cy="560.4" r="5.3" fill="#E5AC29"/><circle cx="652.1" cy="560.4" r="5.3" fill="#E5AC29"/><circle cx="664.8" cy="560.4" r="5.3" fill="#E5AC29"/><circle cx="678.3" cy="560.4" r="5.3" fill="#E5AC29"/><circle cx="692.9" cy="560.4" r="5.3" fill="#E5AC29"/><circle cx="708.4" cy="560.4" r="5.3" fill="#E5AC29"/><circle cx="724.9" cy="560.4" r="5.3" fill="#E5AC29"/><circle cx="742.6" cy="560.4" r="5.3" fill="#E5AC29"/><circle cx="761.5" cy="560.4" r="5.3" fill="#E5AC29"/><circle cx="781.7" cy="560.4" r="5.3" fill="#E5AC29"/><circle cx="803.3" cy="560.4" r="5.3" fill="#E5AC29"/><circle cx="826.4" cy="560.4" r="5.3" fill="#E5AC29"/><circle cx="851" cy="560.4" r="5.3" fill="#E5AC29"/><circle cx="877.3" cy="560.4" r="5.3" fill="#E5AC29"/><circle cx="905.5" cy="560.4" r="5.3" fill="#E5AC29"/><circle cx="935.5" cy="560.4" r="5.3" fill="#E5AC29"/><circle cx="967.7" cy="560.4" r="5.3" fill="#E5AC29"/><circle cx="1002" cy="560.4" r="5.3" fill="#E5AC29"/><circle cx="1038.7" cy="560.4" r="5.3" fill="#E5AC29"/><circle cx="1077.8" cy="560.4" r="5.3" fill="#E5AC29"/>
<path d="M488.9 560.4L490.4 560.4L492 560.4L493.8 560.4L495.6 560.4L497.6 560.4L499.7 560.4L502 560.4L504.4 560.4L507 560.4L509.8 560.4L512.7 560.4L515.9 560.4L519.3 560.4L522.9 560.4L526.7 560.4L530.9 560.4L535.3 560.4L540 560.4L545 560.4L550.3 560.4L556.1 560.4L562.2 495.5L568.8 138.9L575.8 560.4L583.2 560.4L591.2 560.4L599.8 560.4L608.9 560.4L618.6 560.4L629.1 560.4L640.2 560.4L652.1 560.4L664.8 560.4L678.3 560.4L692.9 560.4L708.4 560.4L724.9 560.4L742.6 560.4L761.5 560.4L781.7 560.4L803.3 560.4L826.4 560.4L851 560.4L877.3 560.4L905.5 560.4L935.5 560.4L967.7 560.4L1002 560.4L1038.7 560.4L1077.8 560.4" fill="none" stroke="#0563AF" stroke-width="2.6" stroke-linejoin="round"/>
<path d="M488.9 553.9L495.3 560.4L488.9 566.9L482.4 560.4Z" fill="#0563AF"/><path d="M490.4 553.9L496.9 560.4L490.4 566.9L483.9 560.4Z" fill="#0563AF"/><path d="M492 553.9L498.5 560.4L492 566.9L485.5 560.4Z" fill="#0563AF"/><path d="M493.8 553.9L500.2 560.4L493.8 566.9L487.3 560.4Z" fill="#0563AF"/><path d="M495.6 553.9L502.1 560.4L495.6 566.9L489.1 560.4Z" fill="#0563AF"/><path d="M497.6 553.9L504.1 560.4L497.6 566.9L491.1 560.4Z" fill="#0563AF"/><path d="M499.7 553.9L506.2 560.4L499.7 566.9L493.2 560.4Z" fill="#0563AF"/><path d="M502 553.9L508.5 560.4L502 566.9L495.5 560.4Z" fill="#0563AF"/><path d="M504.4 553.9L510.9 560.4L504.4 566.9L497.9 560.4Z" fill="#0563AF"/><path d="M507 553.9L513.5 560.4L507 566.9L500.5 560.4Z" fill="#0563AF"/><path d="M509.8 553.9L516.3 560.4L509.8 566.9L503.3 560.4Z" fill="#0563AF"/><path d="M512.7 553.9L519.2 560.4L512.7 566.9L506.2 560.4Z" fill="#0563AF"/><path d="M515.9 553.9L522.4 560.4L515.9 566.9L509.4 560.4Z" fill="#0563AF"/><path d="M519.3 553.9L525.8 560.4L519.3 566.9L512.8 560.4Z" fill="#0563AF"/><path d="M522.9 553.9L529.4 560.4L522.9 566.9L516.4 560.4Z" fill="#0563AF"/><path d="M526.7 553.9L533.2 560.4L526.7 566.9L520.2 560.4Z" fill="#0563AF"/><path d="M530.9 553.9L537.3 560.4L530.9 566.9L524.4 560.4Z" fill="#0563AF"/><path d="M535.3 553.9L541.7 560.4L535.3 566.9L528.8 560.4Z" fill="#0563AF"/><path d="M540 553.9L546.4 560.4L540 566.9L533.5 560.4Z" fill="#0563AF"/><path d="M545 553.9L551.5 560.4L545 566.9L538.5 560.4Z" fill="#0563AF"/><path d="M550.3 553.9L556.8 560.4L550.3 566.9L543.9 560.4Z" fill="#0563AF"/><path d="M556.1 553.9L562.6 560.4L556.1 566.9L549.6 560.4Z" fill="#0563AF"/><path d="M562.2 489L568.7 495.5L562.2 502L555.7 495.5Z" fill="#0563AF"/><path d="M568.8 132.4L575.3 138.9L568.8 145.4L562.3 138.9Z" fill="#0563AF"/><path d="M575.8 553.9L582.2 560.4L575.8 566.9L569.3 560.4Z" fill="#0563AF"/><path d="M583.2 553.9L589.7 560.4L583.2 566.9L576.8 560.4Z" fill="#0563AF"/><path d="M591.2 553.9L597.7 560.4L591.2 566.9L584.7 560.4Z" fill="#0563AF"/><path d="M599.8 553.9L606.3 560.4L599.8 566.9L593.3 560.4Z" fill="#0563AF"/><path d="M608.9 553.9L615.4 560.4L608.9 566.9L602.4 560.4Z" fill="#0563AF"/><path d="M618.6 553.9L625.1 560.4L618.6 566.9L612.2 560.4Z" fill="#0563AF"/><path d="M629.1 553.9L635.5 560.4L629.1 566.9L622.6 560.4Z" fill="#0563AF"/><path d="M640.2 553.9L646.7 560.4L640.2 566.9L633.7 560.4Z" fill="#0563AF"/><path d="M652.1 553.9L658.6 560.4L652.1 566.9L645.6 560.4Z" fill="#0563AF"/><path d="M664.8 553.9L671.3 560.4L664.8 566.9L658.3 560.4Z" fill="#0563AF"/><path d="M678.3 553.9L684.8 560.4L678.3 566.9L671.9 560.4Z" fill="#0563AF"/><path d="M692.9 553.9L699.3 560.4L692.9 566.9L686.4 560.4Z" fill="#0563AF"/><path d="M708.4 553.9L714.8 560.4L708.4 566.9L701.9 560.4Z" fill="#0563AF"/><path d="M724.9 553.9L731.4 560.4L724.9 566.9L718.4 560.4Z" fill="#0563AF"/><path d="M742.6 553.9L749.1 560.4L742.6 566.9L736.1 560.4Z" fill="#0563AF"/><path d="M761.5 553.9L768 560.4L761.5 566.9L755 560.4Z" fill="#0563AF"/><path d="M781.7 553.9L788.2 560.4L781.7 566.9L775.2 560.4Z" fill="#0563AF"/><path d="M803.3 553.9L809.8 560.4L803.3 566.9L796.8 560.4Z" fill="#0563AF"/><path d="M826.4 553.9L832.9 560.4L826.4 566.9L819.9 560.4Z" fill="#0563AF"/><path d="M851 553.9L857.5 560.4L851 566.9L844.5 560.4Z" fill="#0563AF"/><path d="M877.3 553.9L883.8 560.4L877.3 566.9L870.9 560.4Z" fill="#0563AF"/><path d="M905.5 553.9L912 560.4L905.5 566.9L899 560.4Z" fill="#0563AF"/><path d="M935.5 553.9L942 560.4L935.5 566.9L929.1 560.4Z" fill="#0563AF"/><path d="M967.7 553.9L974.1 560.4L967.7 566.9L961.2 560.4Z" fill="#0563AF"/><path d="M1002 553.9L1008.5 560.4L1002 566.9L995.5 560.4Z" fill="#0563AF"/><path d="M1038.7 553.9L1045.1 560.4L1038.7 566.9L1032.2 560.4Z" fill="#0563AF"/><path d="M1077.8 553.9L1084.3 560.4L1077.8 566.9L1071.4 560.4Z" fill="#0563AF"/>
</g>
<path d="M466.6 591.1V582.1 M466.6 88.1V97.1" stroke="#222" stroke-width="2"/><path d="M515.2 591.1V586.1 M515.2 88.1V93.1" stroke="#222" stroke-width="2"/><path d="M563.9 591.1V582.1 M563.9 88.1V97.1" stroke="#222" stroke-width="2"/><path d="M612.5 591.1V586.1 M612.5 88.1V93.1" stroke="#222" stroke-width="2"/><path d="M661.2 591.1V582.1 M661.2 88.1V97.1" stroke="#222" stroke-width="2"/><path d="M709.9 591.1V586.1 M709.9 88.1V93.1" stroke="#222" stroke-width="2"/><path d="M758.5 591.1V582.1 M758.5 88.1V97.1" stroke="#222" stroke-width="2"/><path d="M807.2 591.1V586.1 M807.2 88.1V93.1" stroke="#222" stroke-width="2"/><path d="M855.8 591.1V582.1 M855.8 88.1V97.1" stroke="#222" stroke-width="2"/><path d="M904.5 591.1V586.1 M904.5 88.1V93.1" stroke="#222" stroke-width="2"/><path d="M953.1 591.1V582.1 M953.1 88.1V97.1" stroke="#222" stroke-width="2"/><path d="M1001.8 591.1V586.1 M1001.8 88.1V93.1" stroke="#222" stroke-width="2"/><path d="M1050.4 591.1V582.1 M1050.4 88.1V97.1" stroke="#222" stroke-width="2"/><path d="M460.2 560.4H469.2 M1063.5 560.4H1054.5" stroke="#222" stroke-width="2"/><path d="M460.2 528.9H465.2 M1063.5 528.9H1058.5" stroke="#222" stroke-width="2"/><path d="M460.2 497.4H469.2 M1063.5 497.4H1054.5" stroke="#222" stroke-width="2"/><path d="M460.2 465.9H465.2 M1063.5 465.9H1058.5" stroke="#222" stroke-width="2"/><path d="M460.2 434.4H469.2 M1063.5 434.4H1054.5" stroke="#222" stroke-width="2"/><path d="M460.2 402.9H465.2 M1063.5 402.9H1058.5" stroke="#222" stroke-width="2"/><path d="M460.2 371.4H469.2 M1063.5 371.4H1054.5" stroke="#222" stroke-width="2"/><path d="M460.2 339.9H465.2 M1063.5 339.9H1058.5" stroke="#222" stroke-width="2"/><path d="M460.2 308.4H469.2 M1063.5 308.4H1054.5" stroke="#222" stroke-width="2"/><path d="M460.2 276.9H465.2 M1063.5 276.9H1058.5" stroke="#222" stroke-width="2"/><path d="M460.2 245.4H469.2 M1063.5 245.4H1054.5" stroke="#222" stroke-width="2"/><path d="M460.2 213.9H465.2 M1063.5 213.9H1058.5" stroke="#222" stroke-width="2"/><path d="M460.2 182.4H469.2 M1063.5 182.4H1054.5" stroke="#222" stroke-width="2"/><path d="M460.2 150.9H465.2 M1063.5 150.9H1058.5" stroke="#222" stroke-width="2"/><path d="M460.2 119.4H469.2 M1063.5 119.4H1054.5" stroke="#222" stroke-width="2"/><path d="M460.2 87.9H465.2 M1063.5 87.9H1058.5" stroke="#222" stroke-width="2"/>
<rect x="460.2" y="88.1" width="603.3" height="503" fill="none" stroke="#1a1a1a" stroke-width="2.2"/>
<g font-family="'Liberation Sans', Arial, sans-serif" fill="#000"><text transform="translate(466.6 633.2) scale(1.0 1.06)" font-size="26.5" text-anchor="middle">0</text><text transform="translate(563.9 633.2) scale(1.0 1.06)" font-size="26.5" text-anchor="middle">2</text><text transform="translate(661.2 633.2) scale(1.0 1.06)" font-size="26.5" text-anchor="middle">4</text><text transform="translate(758.5 633.2) scale(1.0 1.06)" font-size="26.5" text-anchor="middle">6</text><text transform="translate(855.8 633.2) scale(1.0 1.06)" font-size="26.5" text-anchor="middle">8</text><text transform="translate(953.1 633.2) scale(1.0 1.06)" font-size="26.5" text-anchor="middle">10</text><text transform="translate(1050.4 633.2) scale(1.0 1.06)" font-size="26.5" text-anchor="middle">12</text><text transform="translate(442.3 569.7) scale(1.0 1.06)" font-size="26.5" text-anchor="end">0.0</text><text transform="translate(442.3 506.7) scale(1.0 1.06)" font-size="26.5" text-anchor="end">0.1</text><text transform="translate(442.3 443.7) scale(1.0 1.06)" font-size="26.5" text-anchor="end">0.2</text><text transform="translate(442.3 380.7) scale(1.0 1.06)" font-size="26.5" text-anchor="end">0.3</text><text transform="translate(442.3 317.7) scale(1.0 1.06)" font-size="26.5" text-anchor="end">0.4</text><text transform="translate(442.3 254.7) scale(1.0 1.06)" font-size="26.5" text-anchor="end">0.5</text><text transform="translate(442.3 191.7) scale(1.0 1.06)" font-size="26.5" text-anchor="end">0.6</text><text transform="translate(442.3 128.7) scale(1.0 1.06)" font-size="26.5" text-anchor="end">0.7</text></g>
<g font-family="'Liberation Sans', Arial, sans-serif" fill="#000"><text transform="translate(638.5 685.9) scale(1.0 1.05)" font-size="35.6">Pore width [nm]</text></g>
<text transform="translate(367.5 435.5) rotate(-90) scale(1.09 1.04)" font-family="'Liberation Sans', Arial, sans-serif" font-size="36" fill="#000"><tspan font-style="italic">d</tspan><tspan font-style="italic">V</tspan> [cm<tspan font-size="23" dy="-15">3</tspan><tspan dy="15">g</tspan><tspan font-size="23" dy="-15">-1</tspan><tspan dy="15">]</tspan></text>
<path d="M857.8 132.7H927" stroke="#0563AF" stroke-width="3.4"/>
<path d="M892.9 125.8L899.8 132.7L892.9 139.6L886 132.7Z" fill="#0563AF"/>
<g font-family="'Liberation Sans', Arial, sans-serif" fill="#000"><text transform="translate(935.5 141.4) scale(1.0 1.05)" font-size="28.7">SP-A</text></g>
<path d="M857.8 169.7H927" stroke="#E5AC29" stroke-width="3.4"/>
<circle cx="892.9" cy="169.7" r="6.2" fill="#E5AC29"/>
<g font-family="'Liberation Sans', Arial, sans-serif" fill="#000"><text transform="translate(935.5 180.1) scale(1.0 1.05)" font-size="28.7">SP-B</text></g>
<path d="M857.8 207.7H927" stroke="#FF0000" stroke-width="2"/>
<path d="M892.9 201.6L900.5 213.8L885.3 213.8Z" fill="#FF0000"/>
<g font-family="'Liberation Sans', Arial, sans-serif" fill="#000"><text transform="translate(935.5 217.3) scale(1.0 1.05)" font-size="28.7">SP-C</text></g>
<path d="M857.8 245.6H927" stroke="#68A511" stroke-width="3.6"/>
<rect x="887.9" y="240.6" width="10" height="10" fill="#68A511"/>
<g font-family="'Liberation Sans', Arial, sans-serif" fill="#000"><text transform="translate(935.5 256.6) scale(1.0 1.05)" font-size="28.7">HNT</text></g>
<path d="M2138.3 833.1H2400.8V1096.2H2138.3" fill="none" stroke="#2a2a2a" stroke-width="2.2"/>
<path d="M2143.2 869.8H2260.9" stroke="#0563AF" stroke-width="2.6"/>
<path d="M2201.9 856.4L2215.3 869.8L2201.9 883.2L2188.5 869.8Z" fill="#0563AF"/>
<g font-family="'Liberation Sans', Arial, sans-serif" font-weight="bold" fill="#000"><text transform="translate(2274 886.4) scale(1.0 1.06)" font-size="49">SP-A</text></g>
<path d="M2143.2 933.7H2189.4M2214.4 933.7H2260.9" stroke="#E5AC29" stroke-width="3.4"/>
<circle cx="2201.9" cy="933.7" r="9.6" fill="#E5AC29"/>
<g font-family="'Liberation Sans', Arial, sans-serif" font-weight="bold" fill="#000"><text transform="translate(2274 951.2) scale(1.0 1.06)" font-size="49">SP-B</text></g>
<path d="M2143.2 998.5H2187.4M2216.4 998.5H2260.9" stroke="#FF0000" stroke-width="2.6"/>
<path d="M2201.9 984.5L2215.2 1006L2188.6 1006Z" fill="#FF0000"/>
<g font-family="'Liberation Sans', Arial, sans-serif" font-weight="bold" fill="#000"><text transform="translate(2274 1014.4) scale(1.0 1.06)" font-size="49">SP-C</text></g>
<path d="M2143.2 1062H2187.4M2216.4 1062H2260.9" stroke="#68A511" stroke-width="3.2"/>
<rect x="2192.3" y="1052.4" width="19.2" height="19.2" fill="#68A511"/>
<g font-family="'Liberation Sans', Arial, sans-serif" font-weight="bold" fill="#000"><text transform="translate(2274 1080) scale(1.0 1.06)" font-size="49">HNT</text></g>
</svg></body></html>
